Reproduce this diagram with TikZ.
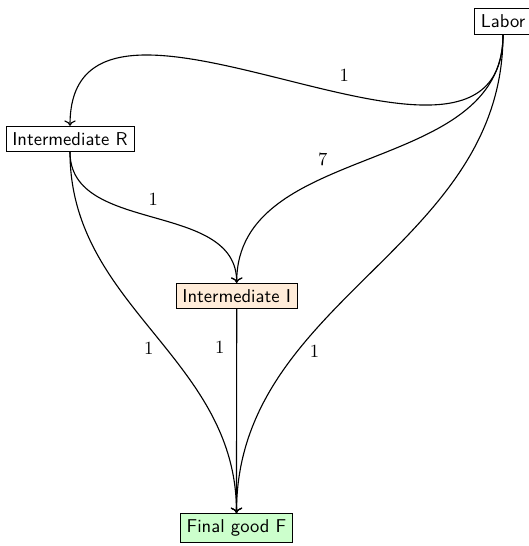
\documentclass[tikz,border=0pt]{standalone}
\usepackage{amsmath,amssymb}
\usepackage{xcolor}
\usepackage{tikz}
\usetikzlibrary{arrows.meta}

\begin{document}
\begin{tikzpicture}[
  x=0.5376pt, y=-0.5376pt,
  box/.style={draw,align=center,font=\sffamily,fill=white},
  arr/.style={->,semithick,out=-90,in=90},
  lbl/.style={font=\normalsize}
]
\useasboundingbox (0,0) rectangle (528,546);
\node[box] (labor) at (503,21.5) {Labor};
\node[box] (interR) at (70,139) {Intermediate R};
\node[box,fill=orange!15] (interI) at (236.7,296) {Intermediate I};
\node[box,fill=green!20] (final) at (236.5,528) {Final good F};
\draw[arr,looseness=1.15] (labor.south) to node[lbl,pos=0.41,above=3pt] {1} (interR.north);
\draw[arr] (labor.south) to node[lbl,pos=0.62,above=3pt] {7} (interI.north);
\draw[arr] (labor.south) to node[lbl,pos=0.69,right=3pt] {1} (final.north);
\draw[arr] (interR.south) to node[lbl,pos=0.5,above=3pt] {1} (interI.north);
\draw[arr] (interR.south) to node[lbl,pos=0.55,left=3pt] {1} (final.north);
\draw[arr] (interI.south) to node[lbl,pos=0.17,left=3pt] {1} (final.north);
\end{tikzpicture}
\end{document}
